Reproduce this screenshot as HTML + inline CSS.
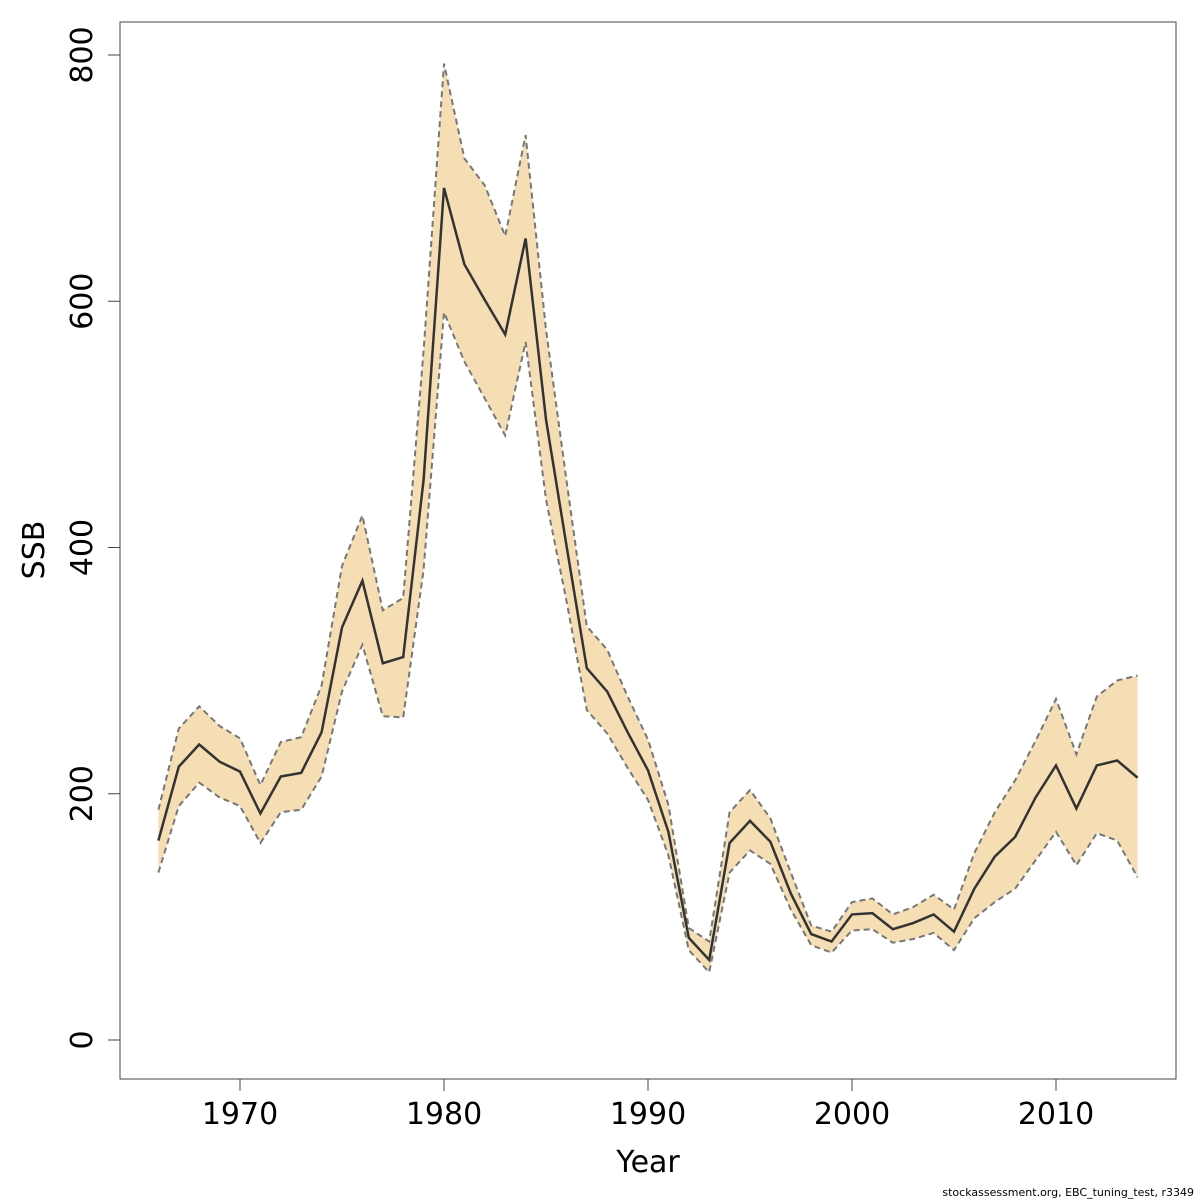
<!DOCTYPE html>
<html><head><meta charset="utf-8"><style>
body{margin:0;background:#fff}
svg{display:block;font-family:"DejaVu Sans","Liberation Sans",sans-serif}
</style></head><body>
<svg id="chart" width="1200" height="1200">
<rect x="120" y="22" width="1056" height="1057" fill="none" stroke="#444" stroke-width="1"/>
<g id="bands"></g>
<g id="xaxis"></g>
<g id="yaxis"></g>
<text x="648" y="1172" font-size="30" text-anchor="middle">Year</text>
<text transform="translate(44,550) rotate(-90)" font-size="30" text-anchor="middle">SSB</text>
<text x="1194" y="1196" font-size="11" text-anchor="end">stockassessment.org, EBC_tuning_test, r3349</text>
</svg>
<script>
const years = [];
for (let y = 1966; y <= 2014; y++) years.push(y);
const ssb = [162,222,240,226,218,184,214,217,250,335,373,306,311,455,692,630,601,573,651,504,402,302,283,250,219,169,83,65,160,178,161,119,86,80,102,103,90,95,102,88,123,149,165,197,223,188,223,227,213];
const upper = [187,253,271,255,245,207,242,246,288,385,426,349,359,560,793,716,694,653,735,577,455,336,317,279,244,191,91,80,185,203,180,136,93,88,112,115,102,108,118,106,152,185,211,243,277,232,279,292,296];
const lower = [136,190,209,197,190,160,185,187,214,283,321,263,262,382,591,551,521,491,567,439,357,268,249,221,195,150,73,55,136,154,143,106,77,71,89,90,79,82,87,73,99,112,123,146,169,142,168,162,132];
const xTicks = [1970,1980,1990,2000,2010];
const yTicks = [0,200,400,600,800];
const X = v => 240 + (v - 1970) * 20.4;
const Y = v => 1040 - v * 1.23125;
const NS = "http://www.w3.org/2000/svg";
const mk = (t, a, p) => { const e = document.createElementNS(NS, t); for (const k in a) e.setAttribute(k, a[k]); p.appendChild(e); return e; };
const g = document.getElementById('bands');
const pts = arr => arr.map((v, i) => X(years[i]) + ',' + Y(v)).join(' ');
const poly = mk('polygon', {points: pts(upper) + ' ' + lower.map((v, i) => X(years[i]) + ',' + Y(v)).reverse().join(' '), fill: '#F5DEB3', stroke: 'none'}, g);


const up = mk('polyline', {points: pts(upper), fill: 'none', stroke: '#777', 'stroke-width': 2, 'stroke-dasharray': '6,4'}, g);


const lo = mk('polyline', {points: pts(lower), fill: 'none', stroke: '#777', 'stroke-width': 2, 'stroke-dasharray': '6,4'}, g);


const ml = mk('polyline', {points: pts(ssb), fill: 'none', stroke: '#333', 'stroke-width': 2.5}, g);


const xa = document.getElementById('xaxis');
mk('line', {x1: X(1970), x2: X(2010), y1: 1079, y2: 1079, stroke: '#444'}, xa);
xTicks.forEach(t => {
  mk('line', {x1: X(t), x2: X(t), y1: 1079, y2: 1091, stroke: '#444'}, xa);
  const tx = mk('text', {x: X(t), y: 1124, 'font-size': 30, 'text-anchor': 'middle'}, xa);
  tx.textContent = t;
  
  
});
const ya = document.getElementById('yaxis');
mk('line', {x1: 120, x2: 120, y1: Y(0), y2: Y(800), stroke: '#444'}, ya);
yTicks.forEach(t => {
  mk('line', {x1: 108, x2: 120, y1: Y(t), y2: Y(t), stroke: '#444'}, ya);
  const tx = mk('text', {transform: `translate(92,${Y(t)}) rotate(-90)`, 'font-size': 30, 'text-anchor': 'middle'}, ya);
  tx.textContent = t;
  
  
});
</script>
</body></html>
